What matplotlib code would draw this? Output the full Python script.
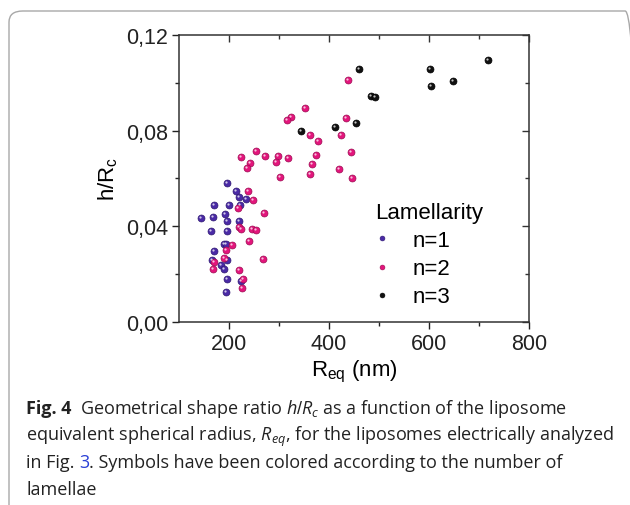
import matplotlib
matplotlib.use("Agg")
import matplotlib.pyplot as plt
import matplotlib.transforms as mtransforms
from matplotlib.patches import FancyBboxPatch
from matplotlib.ticker import FixedLocator
from matplotlib.lines import Line2D

# ---- data (R_eq in nm, h/R_c) ----
n1_x = [195, 213, 220, 234, 221, 169, 200, 143, 167, 191, 195, 220, 164, 195,
        189, 193, 169, 165, 196, 183, 190, 195, 223, 193]
n1_y = [0.0579, 0.0547, 0.0522, 0.0512, 0.0488, 0.0488, 0.0490, 0.0433, 0.0437,
        0.0450, 0.0421, 0.0420, 0.0380, 0.0381, 0.0324, 0.0324, 0.0295, 0.0260,
        0.0260, 0.0239, 0.0222, 0.0179, 0.0172, 0.0124]

n2_x = [438, 351, 323, 316, 434, 361, 377, 424, 254, 224, 271, 297, 318, 242,
        236, 293, 373, 443, 365, 301, 362, 420, 445,
        237, 247, 218, 269, 220, 223, 245, 253, 239, 205, 193, 189, 267, 169,
        168, 220, 228, 225]
n2_y = [0.1013, 0.0895, 0.0858, 0.0844, 0.0853, 0.0782, 0.0755, 0.0782, 0.0713,
        0.0689, 0.0694, 0.0695, 0.0687, 0.0663, 0.0643, 0.0670, 0.0698, 0.0710,
        0.0659, 0.0607, 0.0617, 0.0640, 0.0600,
        0.0547, 0.0509, 0.0476, 0.0455, 0.0395, 0.0388, 0.0388, 0.0384, 0.0339,
        0.0321, 0.0300, 0.0268, 0.0262, 0.0249, 0.0221, 0.0218, 0.0179, 0.0142]

n3_x = [459, 601, 603, 648, 483, 492, 344, 411, 453, 717]
n3_y = [0.1057, 0.1059, 0.0988, 0.1006, 0.0946, 0.0939, 0.0798, 0.0816, 0.0832, 0.1097]

series_labels = ["n=1", "n=2", "n=3"]
x_ticks = [200, 400, 600, 800]
y_ticks = [0.00, 0.04, 0.08, 0.12]
y_ticklabels = ["0,00", "0,04", "0,08", "0,12"]

colors = ["#4a2aa6", "#e3157c", "#111111"]
edges = ["#2e1870", "#9c0c52", "#000000"]

plt.rcParams["font.family"] = ["Liberation Sans", "DejaVu Sans"]
plt.rcParams["mathtext.fontset"] = "custom"
plt.rcParams["mathtext.it"] = "Open Sans:italic"
plt.rcParams["mathtext.rm"] = "Liberation Sans"

fig = plt.figure(figsize=(6.30, 5.06), dpi=100)
W, H = 630, 506

# rounded border box
box = FancyBboxPatch((9 / W, -0.05), 1.0, 1 - 12 / H + 0.05,
                     boxstyle="round,pad=0,rounding_size=0.022",
                     transform=fig.transFigure, fill=False,
                     edgecolor="#a8a8a8", linewidth=1.0, clip_on=False)
fig.patches.append(box)

ax = fig.add_axes([179 / W, 1 - 322.7 / H, 350 / W, 286.7 / H])
ax.set_xlim(100, 800)
ax.set_ylim(0, 0.12)

hl = mtransforms.offset_copy(ax.transData, fig=fig, x=-0.9, y=1.0, units="dots")
for xs, ys, c, e in zip([n1_x, n2_x, n3_x], [n1_y, n2_y, n3_y], colors, edges):
    ax.plot(xs, ys, "o", ms=5.0, color=c, mec=e, mew=0.5, ls="none", zorder=3)
    ax.plot(xs, ys, "o", ms=1.6, color="white", alpha=0.75, mew=0, ls="none",
            transform=hl, zorder=4)

ax.xaxis.set_major_locator(FixedLocator(x_ticks))
ax.xaxis.set_minor_locator(FixedLocator([300, 500, 700]))
ax.yaxis.set_major_locator(FixedLocator(y_ticks))
ax.yaxis.set_minor_locator(FixedLocator([0.02, 0.06, 0.10]))
ax.set_yticklabels(y_ticklabels)
ax.tick_params(which="both", direction="out", labelsize=15.5, colors="#222222",
               width=1.0)
ax.tick_params(which="major", length=5, pad=3)
ax.tick_params(which="minor", length=3)
for s in ax.spines.values():
    s.set_linewidth(1.1)
    s.set_color("#333333")

# inward ticks on top and right
axt = ax.secondary_xaxis("top")
axt.xaxis.set_major_locator(FixedLocator(x_ticks))
axt.xaxis.set_minor_locator(FixedLocator([300, 500, 700]))
axt.tick_params(which="both", direction="in", labeltop=False, width=1.0, colors="#333333")
axt.tick_params(which="major", length=5)
axt.tick_params(which="minor", length=3)
axt.spines["top"].set_visible(False)
axr = ax.secondary_yaxis("right")
axr.yaxis.set_major_locator(FixedLocator(y_ticks))
axr.yaxis.set_minor_locator(FixedLocator([0.02, 0.06, 0.10]))
axr.tick_params(which="both", direction="in", labelright=False, width=1.0, colors="#333333")
axr.tick_params(which="major", length=5)
axr.tick_params(which="minor", length=3)
axr.spines["right"].set_visible(False)

ax.set_xlabel(r"R$_{\mathregular{eq}}$ (nm)", fontsize=16, labelpad=3)
ax.set_ylabel(r"h/R$_{\mathregular{c}}$", fontsize=16, labelpad=4)

handles = [Line2D([], [], marker="o", ls="none", ms=3.5, color=c, mec=e, mew=0.4)
           for c, e in zip(colors, edges)]
leg = ax.legend(handles, series_labels, title="Lamellarity", loc="upper left",
                bbox_to_anchor=(0.56, 0.417), frameon=False, fontsize=16,
                title_fontsize=16, handlelength=0.6, handletextpad=1.1,
                labelspacing=0.32, borderaxespad=0, borderpad=0)
leg._legend_box.align = "left"

# caption
cf = dict(family="Open Sans", color="#222222", va="baseline")
x0 = 26 / W
lines_y = [1 - 414 / H, 1 - 441 / H, 1 - 468 / H, 1 - 495 / H]

fig.canvas.draw()
r = fig.canvas.get_renderer()

line2 = r"equivalent spherical radius, $R_{eq}$, for the liposomes electrically analyzed"
probe = fig.text(0, 0, line2, fontsize=12, **cf)
wprobe = probe.get_window_extent(r).width
probe.remove()
cap_fs = 12 * 586 / wprobe


def put(x, y, s, **kw):
    d = dict(cf)
    d["fontsize"] = cap_fs
    d.update(kw)
    t = fig.text(x, y, s, **d)
    bb = t.get_window_extent(r)
    return bb.x1 / W


nx = put(x0, lines_y[0], "Fig. 4", fontweight="bold")
put(nx + 9 / W, lines_y[0], r"Geometrical shape ratio $h/R_c$ as a function of the liposome")
put(x0, lines_y[1], line2)
nx = put(x0, lines_y[2], "in Fig. ")
nx = put(nx, lines_y[2], "3", color="#2a3fd6")
put(nx, lines_y[2], ". Symbols have been colored according to the number of")
put(x0, lines_y[3], "lamellae")

fig.savefig("out.png", dpi=100)
